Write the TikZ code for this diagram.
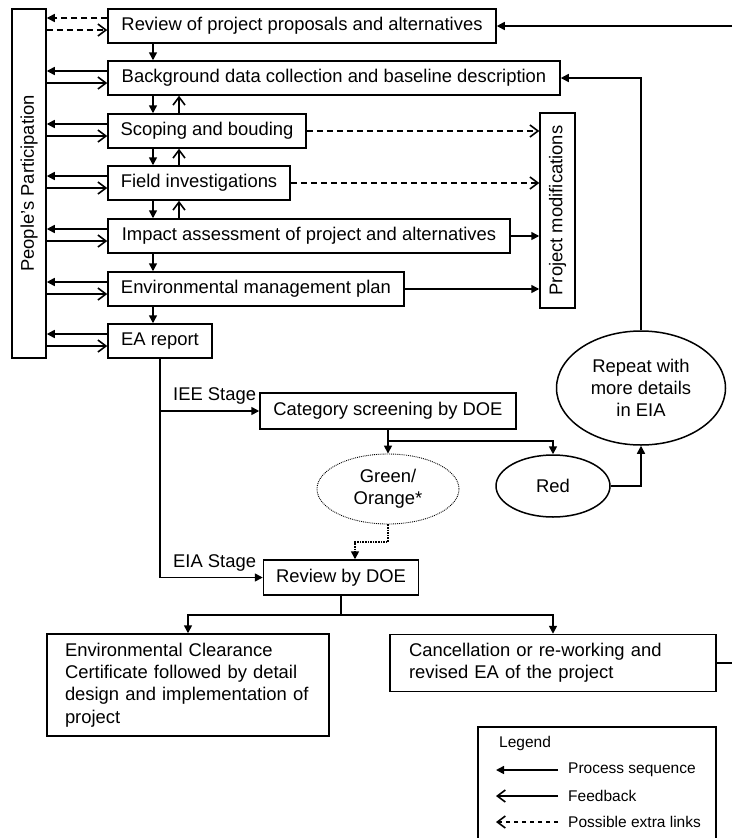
\documentclass[tikz,border=0pt]{standalone}
\usepackage{fontspec}
\setmainfont{Liberation Sans}
\usetikzlibrary{arrows.meta,shapes.geometric}
\newcommand\mainsz{\fontsize{18.4}{22.3}\selectfont}
\newcommand\legsz{\fontsize{15.5}{18}\selectfont}
\begin{document}
\begin{tikzpicture}[x=1pt,y=-1pt,
  box/.style={draw,line width=1.5pt,inner sep=0pt,font=\mainsz,minimum height=34pt},
  ln/.style={line width=1.6pt},
  proc/.style={line width=1.6pt,-{Triangle[length=8pt,width=8pt]}},
  fb/.style={line width=1.6pt,-{Straight Barb[length=8pt,width=12pt]}},
  extra/.style={line width=1.6pt,dash pattern=on 6pt off 4pt,-{Straight Barb[length=8pt,width=12pt]}},
  extraproc/.style={line width=1.6pt,dash pattern=on 6pt off 4pt,-{Triangle[length=8pt,width=8pt]}},
  lbl/.style={font=\mainsz,inner sep=0pt},
  leglbl/.style={font=\legsz,inner sep=0pt,anchor=west},
]
\useasboundingbox (0,0) rectangle (732,838);

% main boxes
\node[box,minimum width=34pt,minimum height=349pt] (pp) at (29,183.5) {\rotatebox{90}{People’s Participation}};
\node[box,minimum width=388pt] (rev) at (302,26) {Review of project proposals and alternatives};
\node[box,minimum width=452pt] (bg) at (334,78) {Background data collection and baseline description};
\node[box,minimum width=198pt] (scop) at (207,131) {Scoping and bouding};
\node[box,minimum width=182pt] (fld) at (199,183) {Field investigations};
\node[box,minimum width=402pt] (imp) at (309,236) {Impact assessment of project and alternatives};
\node[box,minimum width=296pt] (emp) at (256,289) {Environmental management plan};
\node[box,minimum width=104pt] (ea) at (160,341) {EA report};
\node[box,minimum width=35pt,minimum height=195pt] (pm) at (557.5,210.5) {\rotatebox{90}{Project modifications}};
\node[box,minimum width=256pt,minimum height=36pt] (cat) at (388,411) {Category screening by DOE};
\node[box,minimum width=155pt,minimum height=35pt] (rdoe) at (341,577.5) {Review by DOE};
\node[box,text width=246pt,align=left,inner xsep=18pt,minimum height=102pt] (ecc) at (188,685)
  {Environmental Clearance\\Certificate followed by detail\\design and implementation of\\project};
\node[box,text width=288pt,align=left,inner xsep=19pt,minimum height=57pt] (can) at (553,663)
  {Cancellation or re-working and\\revised EA of the project};

% ellipses
\node[draw,ellipse,line width=1.5pt,inner sep=0pt,minimum width=169pt,minimum height=114pt,align=center,font=\mainsz] (rep) at (641,388) {Repeat with\\more details\\in EIA};
\node[draw,ellipse,line width=1.5pt,inner sep=0pt,minimum width=114pt,minimum height=62pt,font=\mainsz] (red) at (553,486) {Red};
\node[draw,ellipse,densely dotted,line width=0.9pt,inner sep=0pt,minimum width=142pt,minimum height=70pt,align=center,font=\mainsz] (grn) at (388,489) {Green/\\Orange*};

% participation links
\draw[extraproc] ([yshift=8pt]rev.west) -- ([yshift=8pt]rev.west -| pp.east);
\draw[extra] ([yshift=-4pt]rev.west -| pp.east) -- ([yshift=-4pt]rev.west);
\foreach \n in {bg,scop,fld,imp,emp,ea} {
  \draw[proc] ([yshift=7pt]\n.west) -- ([yshift=7pt]\n.west -| pp.east);
  \draw[fb] ([yshift=-5pt]\n.west -| pp.east) -- ([yshift=-5pt]\n.west);
}

% vertical sequence
\coordinate (dn) at (153,0);
\coordinate (upc) at (179,0);
\draw[proc] (dn |- rev.south) -- (dn |- bg.north);
\draw[proc] (dn |- bg.south) -- (dn |- scop.north);
\draw[fb] (upc |- scop.north) -- (upc |- bg.south);
\draw[proc] (dn |- scop.south) -- (dn |- fld.north);
\draw[fb] (upc |- fld.north) -- (upc |- scop.south);
\draw[proc] (dn |- fld.south) -- (dn |- imp.north);
\draw[fb] (upc |- imp.north) -- (upc |- fld.south);
\draw[proc] (dn |- imp.south) -- (dn |- emp.north);
\draw[proc] (dn |- emp.south) -- (dn |- ea.north);

% to project modifications
\draw[extra] (scop.east) -- (scop.east -| pm.west);
\draw[extra] (fld.east) -- (fld.east -| pm.west);
\draw[proc] (imp.east) -- (imp.east -| pm.west);
\draw[proc] (emp.east) -- (emp.east -| pm.west);

% right side loops
\coordinate (eA) at (732,26);
\draw[proc] (eA) -- (rev.east);
\draw[proc] (rep.north) -- (rep.north |- bg.east) -- (bg.east);
\draw[proc] (red.east) -- (red.east -| rep.south) -- (rep.south);

% EA report to stages
\draw[proc] (ea.south) -- (ea.south |- cat.west) -- (cat.west);
\draw[proc] (ea.south |- cat.west) -- (ea.south |- rdoe.west) -- (rdoe.west);
\node[lbl,anchor=base west] (iee) at (173,400) {IEE Stage};
\node[lbl,anchor=base west] (eia) at (173,567) {EIA Stage};

% category split
\coordinate (csp) at (388,441);
\draw[ln] (cat.south) -- (csp);
\draw[proc] (csp) -- (grn.north);
\draw[proc] (csp) -- (csp -| red.north) -- (red.north);

% green to review
\coordinate (gd) at (355,542);
\draw[densely dotted,line width=1.6pt,-{Triangle[length=8pt,width=8pt]}] (grn.south) -- (grn.south |- gd) -- (gd) -- (gd |- rdoe.north);

% review split
\coordinate (rsp) at (341,615);
\draw[ln] (rdoe.south) -- (rsp);
\draw[proc] (rsp) -- (rsp -| ecc.north) -- (ecc.north);
\draw[proc] (rsp) -- (rsp -| can.north) -- (can.north);
\coordinate (eB) at (732,663);
\draw[ln] (can.east) -- (eB);

% legend
\draw[line width=1.5pt] (478,840) -- (478,727) -- (716,727) -- (716,840);
\node[leglbl] (lg) at (499,743) {Legend};
\coordinate (l1a) at (558,770); \coordinate (l1b) at (496,770);
\coordinate (l2a) at (558,796); \coordinate (l2b) at (496,796);
\coordinate (l3a) at (558,822); \coordinate (l3b) at (496,822);
\draw[proc] (l1a) -- (l1b);
\draw[fb] (l2a) -- (l2b);
\draw[line width=1.6pt,dash pattern=on 4.5pt off 3.5pt,-{Straight Barb[length=8pt,width=12pt]}] (l3a) -- (l3b);
\node[leglbl] (t1) at (568,770) {Process sequence};
\node[leglbl] (t2) at (568,796) {Feedback};
\node[leglbl] (t3) at (568,822) {Possible extra links};
\end{tikzpicture}
\end{document}
